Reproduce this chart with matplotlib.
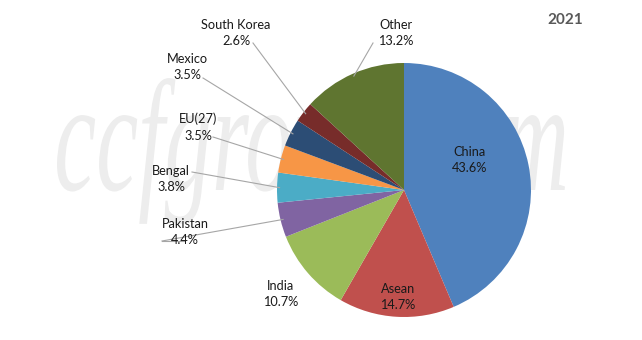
import numpy as np
import matplotlib
matplotlib.use("Agg")
import matplotlib.pyplot as plt
from matplotlib.textpath import TextPath
from matplotlib.patches import PathPatch
from matplotlib.font_manager import FontProperties
from matplotlib.transforms import Affine2D

# share of total, 2021
countries = ["China", "Asean", "India", "Pakistan", "Bengal", "EU(27)",
             "Mexico", "South Korea", "Other"]
shares = [43.6, 14.7, 10.7, 4.4, 3.8, 3.5, 3.5, 2.6, 13.2]
colors = ["#4F81BD", "#C0504D", "#9BBB59", "#8064A2", "#4BACC6",
          "#F79646", "#2C4D75", "#772C2A", "#5F7530"]

# label placement (pixel coords, y from top); None = no leader line
label_pos = {
    "China": (470, 160, None),
    "Asean": (398, 297, None),
    "India": (281, 294, None),
    "Pakistan": (185, 232, (162, 241)),
    "Bengal": (171, 179, (192, 172)),
    "EU(27)": (198, 127, (213, 137)),
    "Mexico": (187, 67, (203, 78)),
    "South Korea": (236, 33, (253, 43)),
    "Other": (396, 33, (373, 43)),
}

plt.rcParams['font.family'] = ['Lato', 'DejaVu Sans']
W, H = 642, 340
fig = plt.figure(figsize=(W / 100, H / 100), dpi=100)
ax = fig.add_axes([0, 0, 1, 1])

# watermark: tall, narrow italic serif text squeezed into a box
fp = FontProperties(family="Liberation Serif", style="italic")
wm = TextPath((0, 0), "ccfgroup.com", size=100, prop=fp)
xh = TextPath((0, 0), "x", size=100, prop=fp).get_extents().height
ext = wm.get_extents()
sx = (565 - 57) / ext.width
sy = 73 / xh
tr = Affine2D().translate(-ext.x0, 0).scale(sx, sy).translate(57, H - 190)
ax.add_patch(PathPatch(tr.transform_path(wm), facecolor="#EDEDED",
                       edgecolor="none", zorder=0))

cx, cy, r = 404, H - 190, 127
wedges, _ = ax.pie(shares, colors=colors, startangle=90, counterclock=False,
                   center=(cx, cy), radius=r, frame=True,
                   wedgeprops=dict(linewidth=0, zorder=2))
ax.set_xlim(0, W)
ax.set_ylim(0, H)
ax.set_aspect('equal')
ax.axis('off')

for w, name, val in zip(wedges, countries, shares):
    tx, ty, anchor = label_pos[name]
    ax.text(tx, H - ty, f"{name}\n{val:.1f}%", ha="center", va="center",
            fontsize=9.2, color="#1a1a1a", linespacing=1.45, zorder=5)
    if anchor is not None:
        mid = np.deg2rad((w.theta1 + w.theta2) / 2)
        ex = cx + r * 0.98 * np.cos(mid)
        ey = cy + r * 0.98 * np.sin(mid)
        ax.plot([anchor[0], ex], [H - anchor[1], ey], color="#A6A6A6",
                linewidth=0.8, zorder=4)

# short tail under the Pakistan label
ax.plot([162, 185], [H - 241, H - 241], color="#A6A6A6", linewidth=0.8, zorder=4)

ax.text(565, H - 20, "2021", ha="center", va="center", fontsize=11,
        fontweight="bold", color="#595959")

fig.savefig("out.png", dpi=100)
